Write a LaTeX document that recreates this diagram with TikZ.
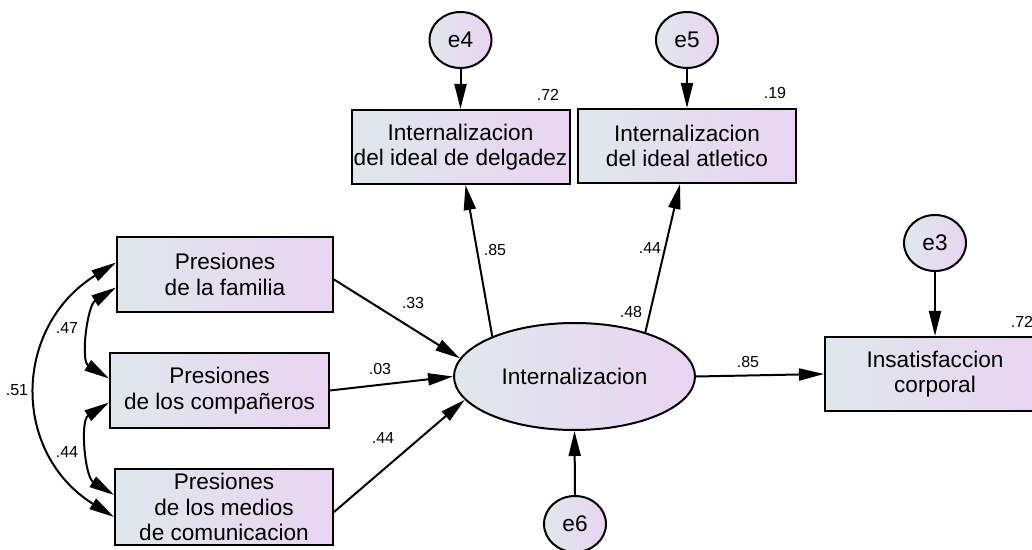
\documentclass[tikz,border=0pt]{standalone}
\usepackage{fontspec}
\setmainfont{Liberation Sans}
\usepackage{tikz}
\usetikzlibrary{positioning, shapes.geometric, arrows.meta}
\definecolor{boxleft}{RGB}{224,231,235}
\definecolor{boxright}{RGB}{233,212,242}

\begin{document}
\begin{tikzpicture}[x=1pt, y=1pt,
  obs/.style={rectangle, draw=black, line width=2pt, left color=boxleft, right color=boxright, inner sep=0pt, align=center, font=\fontsize{22.6}{25.5}\selectfont},
  lat/.style={ellipse, draw=black, line width=2pt, left color=boxleft, right color=boxright, inner sep=0pt, minimum width=241pt, minimum height=107pt, font=\fontsize{22.6}{25.5}\selectfont},
  err/.style={ellipse, draw=black, line width=2pt, left color=boxleft, right color=boxright, inner sep=0pt, minimum width=62pt, minimum height=56pt, font=\fontsize{22.6}{25.5}\selectfont},
  coef/.style={inner sep=0pt, font=\fontsize{16}{18}\selectfont},
  path/.style={line width=2pt, -{Triangle[length=25pt, width=12pt]}},
  cov/.style={line width=2pt, {Triangle[length=25pt, width=12pt]}-{Triangle[length=25pt, width=12pt]}}]
\clip (0,0) rectangle (1032,549);

% PRESIONES
\node [obs, minimum width=216pt, minimum height=75pt] (fam) at (225,274.5) {Presiones\\de la familia};
\node [obs, minimum width=219pt, minimum height=75pt] (com) at (219.5,158.5) {Presiones\\de los compañeros};
\node [obs, minimum width=218pt, minimum height=76pt] (med) at (224,42) {Presiones\\de los medios\\de comunicacion};

% INTERNALIZACION
\node [lat] (int) at (574.5,172.5) {Internalizacion};
\node [err] (e6) at (575,25) {e6};

% IDEALES
\node [obs, minimum width=218pt, minimum height=74pt] (del) at (460.5,402) {Internalizacion\\del ideal de delgadez};
\node [obs, minimum width=218pt, minimum height=74pt] (atl) at (687,403) {Internalizacion\\del ideal atletico};
\node [err] (e4) at (460.5,509) {e4};
\node [err] (e5) at (687,509) {e5};

% INSATISFACCION
\node [obs, minimum width=220pt, minimum height=74pt] (ins) at (935,175) {Insatisfaccion\\corporal};
\node [err] (e3) at (935,306) {e3};

% COEFICIENTES
\node [coef] (r_del) at (548,454) {.72};
\node [coef] (r_atl) at (775,456) {.19};
\node [coef] (r_ins) at (1022,227) {.72};
\node [coef] (r_int) at (631,237) {.48};
\node [coef] (b_del) at (495,299) {.85};
\node [coef] (b_atl) at (650,301) {.44};
\node [coef] (b_fam) at (413,246) {.33};
\node [coef] (b_com) at (380,180) {.03};
\node [coef] (b_med) at (383,111) {.44};
\node [coef] (b_ins) at (748,187) {.85};
\node [coef] (c_famcom) at (67,221) {.47};
\node [coef] (c_commed) at (67,97) {.44};
\node [coef] (c_fammed) at (17,159) {.51};


\draw [path] ([yshift=-5pt]fam.east) -- (int.171);
\draw [path] (com.east) -- (int.west);
\draw [path] ([yshift=-5pt]med.east) -- (int.192);
\draw [path] (int.154) -- ([xshift=5pt]del.south);
\draw [path] (int.32) -- ([xshift=-7pt]atl.south);
\draw [path] (int.east) -- (ins.west);
\draw [path] (e4.south) -- (del.north);
\draw [path] (e5.south) -- (atl.north);
\draw [path] (e3.south) -- (ins.north);
\draw [path] (e6.north) -- (int.south);
\draw [cov] ([yshift=12pt]fam.west) to[out=212, in=148, looseness=1.22] ([yshift=-10pt]med.west);
\draw [cov] ([yshift=-13pt]fam.west) to[out=212, in=148, looseness=0.95] ([yshift=12pt]com.west);
\draw [cov] ([yshift=-12pt]com.west) to[out=212, in=148, looseness=0.95] ([yshift=12pt]med.west);
\end{tikzpicture}
\end{document}
